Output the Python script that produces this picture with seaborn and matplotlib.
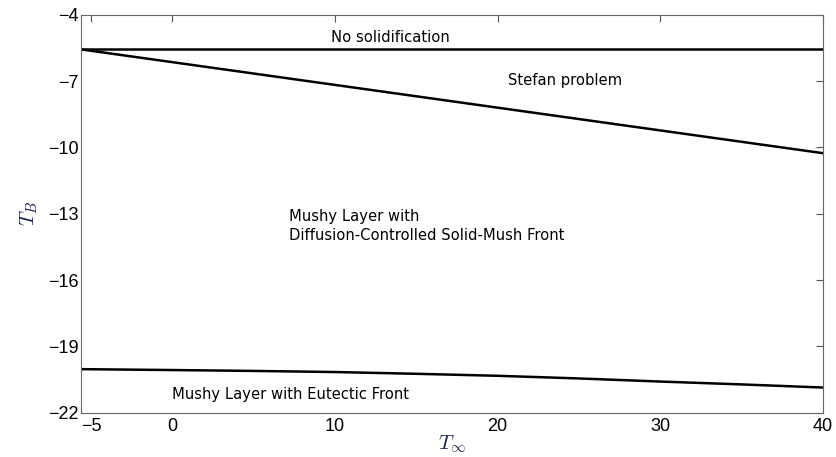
import matplotlib
matplotlib.use("Agg")
import matplotlib.pyplot as plt
import seaborn as sns
import pandas as pd

# Regime boundaries in the (T_inf, T_B) plane
x_edge = [-5.6, 40]
no_solid_T = [-5.57, -5.57]
stefan_T = [-5.57, -10.26]

x_eut = [-5.6, 0, 5, 10, 15, 20, 25, 30, 35, 40]
eutectic_T = [-20.03, -20.07, -20.11, -20.16, -20.24, -20.33, -20.45, -20.59, -20.72, -20.86]

x_ticks = [-5, 0, 10, 20, 30, 40]
y_ticks = [-22, -19, -16, -13, -10, -7, -4]

sns.set_style("white")
plt.rcParams["mathtext.fontset"] = "cm"

fig = plt.figure(figsize=(8.36, 4.57), dpi=100)
ax = fig.add_axes([0.0973, 0.0969, 0.8867, 0.8709])

curves = [
    pd.DataFrame({"T_inf": x_edge, "T_B": no_solid_T}),
    pd.DataFrame({"T_inf": x_edge, "T_B": stefan_T}),
    pd.DataFrame({"T_inf": x_eut, "T_B": eutectic_T}),
]
for df in curves:
    sns.lineplot(data=df, x="T_inf", y="T_B", ax=ax, color="black",
                 linewidth=1.8, sort=False, estimator=None)

ax.set_xlim(-5.6, 40)
ax.set_ylim(-22, -4)
ax.set_xticks(x_ticks)
ax.set_yticks(y_ticks)
ax.set_xticklabels([f"{v}".replace("-", "\u2212") for v in x_ticks],
                   fontsize=13, family="Liberation Sans")
ax.set_yticklabels([f"{v}".replace("-", "\u2212") for v in y_ticks],
                   fontsize=13, family="Liberation Sans")
ax.tick_params(direction="in", length=5, width=0.8, color="#555555",
               labelcolor="black", top=True, right=True)
ax.tick_params(axis="x", pad=4)
ax.tick_params(axis="y", pad=2)
for sp in ax.spines.values():
    sp.set_color("#666666")
    sp.set_linewidth(0.8)

ax.set_xlabel(r"$T_\infty$", fontsize=15, color="#1f2450", labelpad=-1)
ax.set_ylabel(r"$T_B$", fontsize=15, color="#1f2450", labelpad=6)

txt = dict(fontsize=10.6, family="DejaVu Sans", color="black", va="baseline", ha="left")
ax.text(9.75, -5.22, "No solidification", **txt)
ax.text(20.65, -7.18, "Stefan problem", **txt)
ax.text(7.18, -13.35, "Mushy Layer with", **txt)
ax.text(7.18, -14.2, "Diffusion-Controlled Solid-Mush Front", **txt)
ax.text(0.0, -21.36, "Mushy Layer with Eutectic Front", **txt)

fig.savefig("out.png", dpi=100)
